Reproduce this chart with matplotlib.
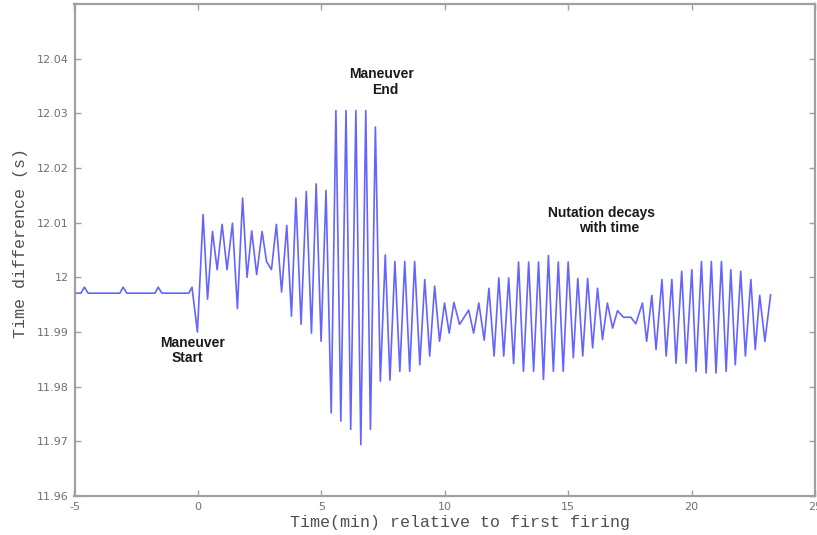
import matplotlib
matplotlib.use('Agg')
import matplotlib.pyplot as plt

# pontos (picos e vales da nutação)
t_min = [-5.0, -4.74, -4.60, -4.45, -3.16, -3.03, -2.88, -1.74, -1.61, -1.46, -0.37, -0.24,
         -0.02, 0.21, 0.39, 0.59, 0.78, 0.98, 1.18, 1.40,
         1.60, 1.81, 1.99, 2.18, 2.38, 2.60, 2.78, 2.98, 3.18, 3.39,
         3.60, 3.79, 3.97, 4.18, 4.39, 4.60, 4.79, 4.99, 5.19, 5.40,
         5.59, 5.79, 6.00, 6.19, 6.40, 6.60, 6.80, 6.99, 7.19, 7.39,
         7.59, 7.78, 7.98, 8.18, 8.38, 8.58, 8.78, 8.99, 9.19, 9.39,
         9.59, 9.79, 9.99, 10.18, 10.37, 10.60, 10.97, 11.17, 11.38, 11.60,
         11.79, 12.00, 12.19, 12.39, 12.59, 12.79, 12.99, 13.19, 13.40, 13.60,
         13.80, 14.00, 14.20, 14.40, 14.60, 14.80, 15.00, 15.21, 15.39, 15.59,
         15.79, 15.99, 16.19, 16.39, 16.59, 16.80, 17.00, 17.24, 17.54, 17.74,
         18.01, 18.18, 18.39, 18.56, 18.80, 18.97, 19.20, 19.37, 19.60, 19.78,
         20.01, 20.18, 20.40, 20.59, 20.80, 20.99, 21.21, 21.40, 21.59, 21.77,
         21.99, 22.18, 22.40, 22.58, 22.76, 22.97, 23.20]

dt_s = [11.9971, 11.9971, 11.9982, 11.9971, 11.9971, 11.9982, 11.9971, 11.9971, 11.9982, 11.9971, 11.9971, 11.9982,
        11.9900, 12.0115, 11.9960, 12.0084, 12.0014, 12.0097, 12.0014, 12.0099,
        11.9943, 12.0145, 12.0000, 12.0085, 12.0005, 12.0084, 12.0029, 12.0014, 12.0097, 11.9973,
        12.0095, 11.9929, 12.0145, 11.9914, 12.0157, 11.9898, 12.0171, 11.9883, 12.0159, 11.9752,
        12.0305, 11.9737, 12.0305, 11.9722, 12.0305, 11.9694, 12.0305, 11.9722, 12.0275, 11.9810,
        12.0041, 11.9812, 12.0029, 11.9828, 12.0029, 11.9828, 12.0029, 11.9840, 11.9996, 11.9856,
        11.9984, 11.9883, 11.9953, 11.9898, 11.9954, 11.9914, 11.9940, 11.9898, 11.9953, 11.9885,
        11.9980, 11.9856, 11.9999, 11.9856, 11.9999, 11.9842, 12.0028, 11.9828, 12.0028, 11.9828,
        12.0028, 11.9813, 12.0040, 11.9828, 12.0028, 11.9828, 12.0028, 11.9853, 11.9998, 11.9856,
        11.9998, 11.9871, 11.9980, 11.9886, 11.9953, 11.9907, 11.9939, 11.9927, 11.9927, 11.9915,
        11.9953, 11.9883, 11.9967, 11.9868, 11.9996, 11.9856, 11.9996, 11.9843, 12.0011, 11.9843,
        12.0014, 11.9828, 12.0029, 11.9825, 12.0029, 11.9825, 12.0029, 11.9828, 12.0014, 11.9840,
        12.0011, 11.9856, 11.9996, 11.9868, 11.9967, 11.9883, 11.9968]

x_ticks = [-5, 0, 5, 10, 15, 20, 25]
x_tick_labels = ['-5', '0', '5', '10', '15', '20', '25']
y_ticks = [11.96, 11.97, 11.98, 11.99, 12.0, 12.01, 12.02, 12.03, 12.04]
y_tick_labels = ['11.96', '11.97', '11.98', '11.99', '12', '12.01', '12.02', '12.03', '12.04']

GRAY = '#a0a0a0'
LINE = '#6464ff'


def main():
    fig = plt.figure(figsize=(8.17, 5.35), dpi=100)
    ax = fig.add_axes([74.5 / 817, 1 - 496 / 535, (815 - 74.5) / 817, (496 - 4) / 535])

    ax.plot(t_min, dt_s, color=LINE, lw=1.2)

    ax.set_xlim(-5, 25)
    ax.set_ylim(11.96, 12.05)
    ax.set_xticks(x_ticks)
    ax.set_xticklabels(x_tick_labels)
    ax.set_yticks(y_ticks)
    ax.set_yticklabels(y_tick_labels)
    ax.tick_params(direction='in', length=4, width=1, color=GRAY, labelcolor='#707070',
                   labelsize=8, top=True, right=True, pad=4)
    for sp in ax.spines.values():
        sp.set_color(GRAY)
        sp.set_linewidth(1.6)

    txt = dict(fontsize=10, fontweight='bold', family='Liberation Sans', color='#1a1a1a',
               ha='center', va='center')
    ax.text(-0.23, 11.98799, 'Maneuver', **txt)
    ax.text(-0.43, 11.98525, 'Start', **txt)
    ax.text(7.44, 12.03717, 'Maneuver', **txt)
    ax.text(7.60, 12.03431, 'End', **txt)
    ax.text(16.36, 12.01175, 'Nutation decays', **txt)
    ax.text(16.68, 12.00901, 'with time', **txt)

    fig.text(21 / 817, 1 - 243 / 535, 'Time difference (s)', rotation=90, ha='center', va='center',
             family='Liberation Mono', fontsize=12, color='#505050')
    fig.text(460 / 817, 1 - 522 / 535, 'Time(min) relative to first firing', ha='center', va='center',
             family='Liberation Mono', fontsize=12, color='#505050')

    fig.savefig('out.png', dpi=100)
    plt.close(fig)


if __name__ == '__main__':
    main()
